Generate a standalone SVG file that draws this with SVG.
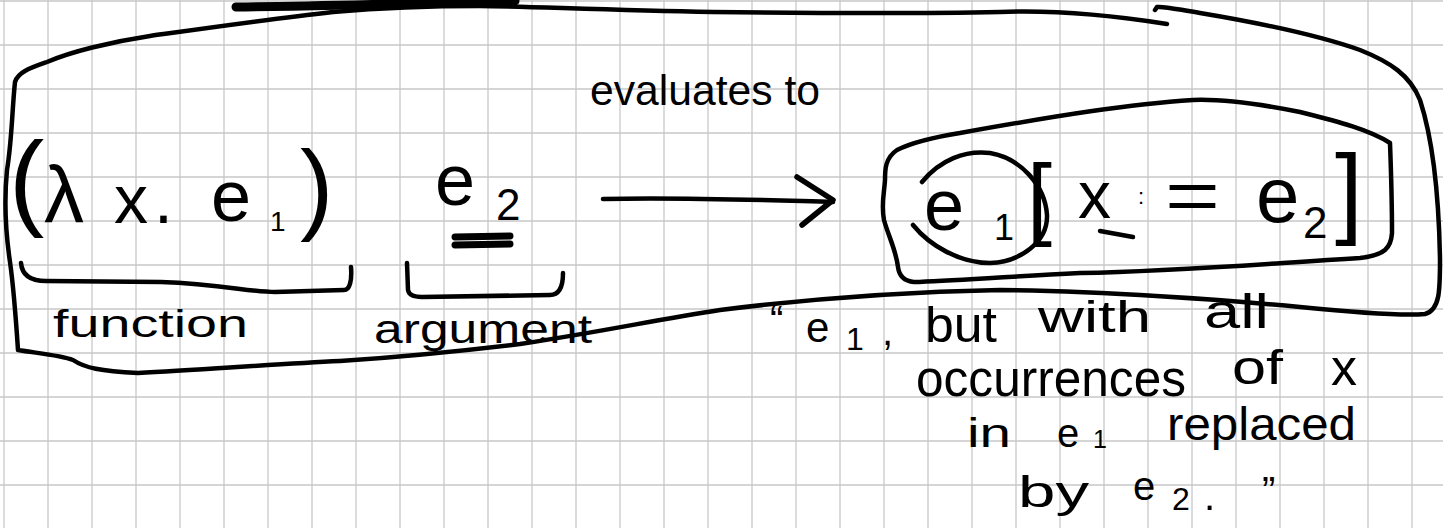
<svg xmlns="http://www.w3.org/2000/svg" width="1443" height="528" viewBox="0 0 1443 528">
<defs>
<style>
.grid{stroke:#c8c8c8;stroke-width:1.3;fill:none}
.ink{stroke:#000;stroke-width:4.5;fill:none;stroke-linecap:round;stroke-linejoin:round}
.t{font-family:"Liberation Sans","DejaVu Sans",sans-serif;fill:#000}
</style>
</defs>
<rect x="0" y="0" width="1443" height="528" fill="#fff"/>
<path class="grid" d="M4,0V528M48,0V528M92,0V528M136,0V528M180,0V528M224,0V528M268,0V528M312,0V528M356,0V528M400,0V528M444,0V528M488,0V528M532,0V528M576,0V528M620,0V528M664,0V528M708,0V528M752,0V528M796,0V528M840,0V528M884,0V528M928,0V528M972,0V528M1016,0V528M1060,0V528M1104,0V528M1148,0V528M1192,0V528M1236,0V528M1280,0V528M1324,0V528M1368,0V528M1412,0V528M0,1H1443M0,45H1443M0,89H1443M0,133H1443M0,177H1443M0,221H1443M0,265H1443M0,309H1443M0,353H1443M0,397H1443M0,441H1443M0,485H1443"/>

<g id="outer-loop">
<path class="ink" d="M1167,24 C1110,15 1050,10 1000,12 C900,14 800,13 713,12 C600,10 520,6 480,6 C430,6 380,8 333,12 C270,19 200,29 150,36 C110,42 70,52 47,62 C30,68 18,72 15,82 C12,110 12,140 7,170 C4,200 6,235 10,262 C14,290 16,320 18,350 C35,353 60,355 73,360 C85,368 100,371 138,373 C200,370 275,364 340,361 C400,357 445,353 520,344 C600,332 660,319 720,310 C800,300 900,292 1000,290 C1100,291 1227,300 1300,307 C1350,312 1400,316 1425,314 C1440,310 1440,290 1440,260 C1439,200 1433,140 1420,100 C1410,75 1390,62 1360,50 C1320,36 1260,23 1200,13 C1180,10 1165,6 1157,7 L1155,10"/>
<path class="ink" d="M236,7 C330,6 430,3 515,1" style="stroke-width:9"/>
</g>

<g id="lhs">
<text class="t" x="9" y="216" font-size="106">(</text>
<text class="t" x="44" y="222" font-size="80">λ</text>
<text class="t" x="114" y="223" font-size="68">x</text>
<text class="t" x="154" y="223" font-size="68">.</text>
<text class="t" x="211" y="221" font-size="72">e</text>
<text class="t" x="270" y="231" font-size="28">1</text>
<text class="t" x="300" y="221" font-size="100">)</text>
</g>

<g id="argument-expr">
<text class="t" x="435" y="205" font-size="72">e</text>
<text class="t" x="496" y="220" font-size="44">2</text>
<path class="ink" d="M455,237 L510,236 M455,245 L510,244" style="stroke-width:7"/>
</g>

<g id="function-label">
<path class="ink" d="M21,263 C22,275 30,281 46,281 L161,282 C220,284 250,292 275,292 L344,290 C350,290 352,280 351,267"/>
<text class="t" x="53" y="337" font-size="38" textLength="195" lengthAdjust="spacingAndGlyphs">function</text>
</g>

<g id="argument-label">
<path class="ink" d="M407,263 L408,290 C409,296 415,297 422,297 L550,295 C560,295 563,285 563,273"/>
<text class="t" x="374" y="343" font-size="40" textLength="218" lengthAdjust="spacingAndGlyphs">argument</text>
</g>

<g id="connectors">
<path class="ink" d="M603,199 C680,197 760,200 833,202"/>
<path class="ink" d="M797,177 L833,200 L802,225" style="stroke-width:5.5"/>
<text class="t" x="590" y="105" font-size="42" textLength="230" lengthAdjust="spacingAndGlyphs">evaluates to</text>
</g>

<g id="result">
<path class="ink" d="M960,133 C935,137 913,142 897,150 C885,158 885,170 885,180 C884,195 881,205 884,220 C888,235 896,250 898,267 C899,275 903,281 914,282 C950,281 1000,277 1080,273 C1180,271 1260,264 1360,258 C1385,255 1391,248 1392,233 C1392,200 1391,170 1390,143 C1370,130 1340,122 1300,112 C1260,104 1220,99 1193,100 C1130,104 1060,115 960,133"/>
<path class="ink" d="M922,182 C940,160 965,150 990,153 C1020,158 1045,185 1047,215 C1048,242 1020,262 990,263 C960,263 930,246 913,225"/>
<text class="t" x="924" y="230" font-size="72">e</text>
<text class="t" x="994" y="240" font-size="36">1</text>
<text class="t" x="1027" y="228" font-size="90">[</text>
<text class="t" x="1078" y="218" font-size="66">x</text>
<path class="ink" d="M1100,231 L1133,237"/>
<text class="t" x="1138" y="204" font-size="22">:</text>
<text class="t" x="1165" y="220" font-size="70" textLength="55" lengthAdjust="spacingAndGlyphs">=</text>
<text class="t" x="1256" y="222" font-size="78">e</text>
<text class="t" x="1303" y="238" font-size="44">2</text>
<text class="t" x="1335" y="225" font-size="100">]</text>
</g>

<g id="explanation">
<text class="t" x="770" y="334" font-size="40">“</text>
<text class="t" x="806" y="342" font-size="42">e</text>
<text class="t" x="846" y="350" font-size="32">1</text>
<text class="t" x="882" y="345" font-size="40">,</text>
<text class="t" x="925" y="342" font-size="50" textLength="72" lengthAdjust="spacingAndGlyphs">but</text>
<text class="t" x="1038" y="332" font-size="44" textLength="113" lengthAdjust="spacingAndGlyphs">with</text>
<text class="t" x="1204" y="328" font-size="48" textLength="65" lengthAdjust="spacingAndGlyphs">all</text>
<text class="t" x="916" y="396" font-size="52" textLength="270" lengthAdjust="spacingAndGlyphs">occurrences</text>
<text class="t" x="1232" y="384" font-size="48" textLength="51" lengthAdjust="spacingAndGlyphs">of</text>
<text class="t" x="1331" y="385" font-size="52">x</text>
<text class="t" x="967" y="447" font-size="40" textLength="44" lengthAdjust="spacingAndGlyphs">in</text>
<text class="t" x="1057" y="447" font-size="40">e</text>
<text class="t" x="1093" y="448" font-size="25">1</text>
<text class="t" x="1167" y="440" font-size="46" textLength="189" lengthAdjust="spacingAndGlyphs">replaced</text>
<text class="t" x="1018" y="507" font-size="44" textLength="71" lengthAdjust="spacingAndGlyphs">by</text>
<text class="t" x="1133" y="500" font-size="40">e</text>
<text class="t" x="1172" y="510" font-size="32">2</text>
<text class="t" x="1204" y="510" font-size="40">.</text>
<text class="t" x="1262" y="505" font-size="40">”</text>
</g>
</svg>
